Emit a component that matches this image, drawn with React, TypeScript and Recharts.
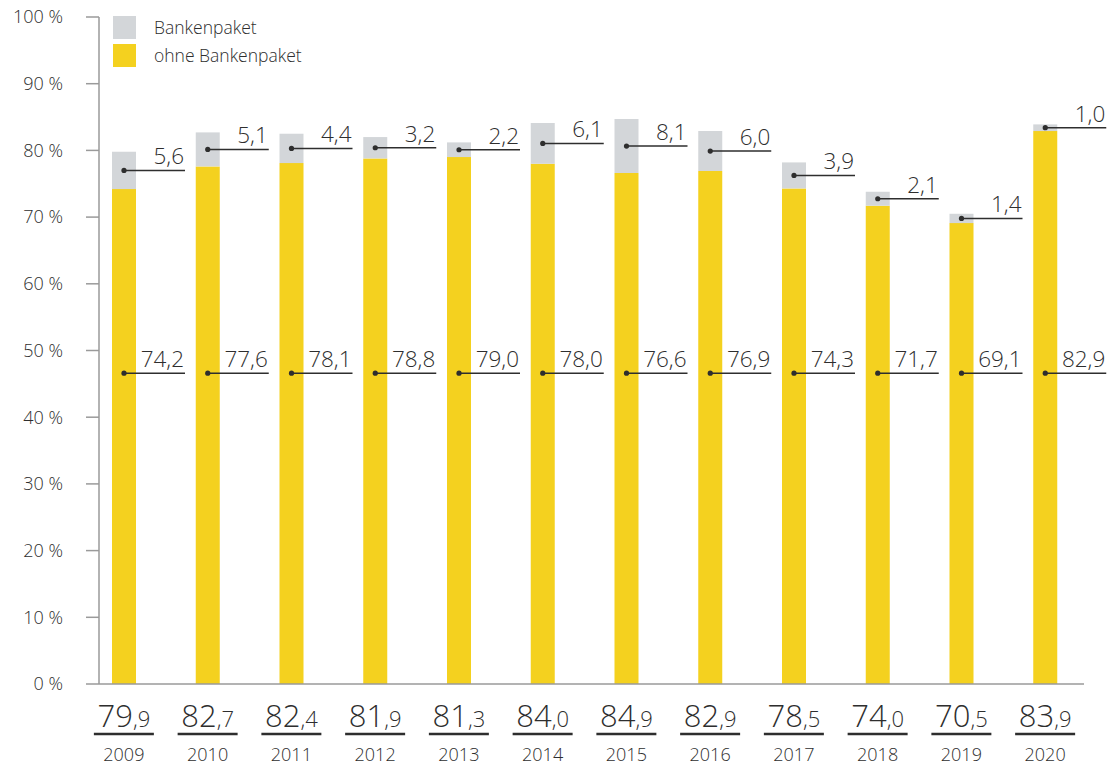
import React from "react";
import { BarChart, Bar, XAxis, YAxis, LabelList } from "recharts";

const years = ["2009", "2010", "2011", "2012", "2013", "2014", "2015", "2016", "2017", "2018", "2019", "2020"];
const ohneBankenpaket = [74.2, 77.6, 78.1, 78.8, 79.0, 78.0, 76.6, 76.9, 74.3, 71.7, 69.1, 82.9];
const bankenpaket = [5.6, 5.1, 4.4, 3.2, 2.2, 6.1, 8.1, 6.0, 3.9, 2.1, 1.4, 1.0];
const totals = [79.9, 82.7, 82.4, 81.9, 81.3, 84.0, 84.9, 82.9, 78.5, 74.0, 70.5, 83.9];
const yTicks = [0, 10, 20, 30, 40, 50, 60, 70, 80, 90, 100];
// level (in %) at which the "ohne Bankenpaket" values are annotated
const ohneLabelLevel = 46.6;

const YELLOW = "#f4d11f";
const GREY = "#d3d6d9";
const INK = "#2e2e2e";
const AXIS = "#9a9a9a";
const FONT = "'Open Sans', 'Noto Sans', sans-serif";

const data = years.map((y, i) => ({
  year: y,
  ohne: ohneBankenpaket[i],
  bank: bankenpaket[i],
}));

const fmt = (v: number) => v.toFixed(1).replace(".", ",");

function Callout({ cx, cy, text }: { cx: number; cy: number; text: string }) {
  const len = 61;
  return (
    <g>
      <line x1={cx} y1={cy} x2={cx + len} y2={cy} stroke={INK} strokeWidth={1.5} />
      <circle cx={cx} cy={cy} r={2.6} fill={INK} />
      <text x={cx + len - 1} y={cy - 6} textAnchor="end" fontSize={22.5} fontWeight={300}
        fill={INK} fontFamily={FONT}>{text}</text>
    </g>
  );
}

function OhneLabel(props: any) {
  const vb = props.viewBox ?? props;
  const { x, y, width, height } = vb;
  const i = props.index;
  const v = ohneBankenpaket[i];
  const bottom = y + height;
  const ly = bottom - (ohneLabelLevel * height) / v;
  return <Callout cx={x + width / 2} cy={ly} text={fmt(v)} />;
}

function BankLabel(props: any) {
  const vb = props.viewBox ?? props;
  const { x, y, width, height } = vb;
  const i = props.index;
  return <Callout cx={x + width / 2} cy={y + height / 2} text={fmt(bankenpaket[i])} />;
}

function YearTick(props: any) {
  const { x, y, payload } = props;
  const i = years.indexOf(String(payload.value));
  const [whole, dec] = fmt(totals[i]).split(",");
  return (
    <g fontFamily={FONT} fill={INK}>
      <text x={x} y={y + 43} textAnchor="middle" fontWeight={300} fill={INK}>
        <tspan fontSize={31}>{whole}</tspan>
        <tspan fontSize={22}>,{dec}</tspan>
      </text>
      <line x1={x - 30} y1={y + 50} x2={x + 30} y2={y + 50} stroke={INK} strokeWidth={2.5} />
      <text x={x} y={y + 77} textAnchor="middle" fontSize={18} fontWeight={300} fill={INK}>
        {payload.value}
      </text>
    </g>
  );
}

function LegendBox() {
  const items = [
    { name: "Bankenpaket", color: GREY },
    { name: "ohne Bankenpaket", color: YELLOW },
  ];
  return (
    <div style={{ position: "absolute", left: 113, top: 16, fontFamily: FONT, fontWeight: 300, color: INK, fontSize: 17.5 }}>
      {items.map((it) => (
        <div key={it.name} style={{ display: "flex", alignItems: "center", height: 23, marginBottom: 5 }}>
          <div style={{ width: 23, height: 23, background: it.color, marginRight: 18 }} />
          <span style={{ lineHeight: "23px" }}>{it.name}</span>
        </div>
      ))}
    </div>
  );
}

export default function App() {
  return (
    <div style={{ position: "absolute", left: 0, top: 0, width: 1113, height: 765, background: "#fff" }}>
      <BarChart width={1113} height={765} data={data}
        margin={{ top: 17, right: 29, bottom: 0, left: 0 }}>
        <XAxis dataKey="year" height={81} padding={{ left: -17, right: -3 }}
          axisLine={{ stroke: AXIS, strokeWidth: 1.5 }} tickLine={false} tickSize={0} tickMargin={0}
          tick={<YearTick />} interval={0} />
        <YAxis width={99} domain={[0, 100]} ticks={yTicks} tickFormatter={(v) => `${v} %`}
          axisLine={{ stroke: AXIS, strokeWidth: 1.5 }} tickLine={{ stroke: AXIS, strokeWidth: 1.5 }}
          tickSize={13} tickMargin={23}
          tick={{ fill: INK, fontSize: 18, fontFamily: FONT, fontWeight: 300 }} />
        <Bar dataKey="ohne" name="ohne Bankenpaket" stackId="a" fill={YELLOW} barSize={24}
          isAnimationActive={false}>
          <LabelList dataKey="ohne" content={<OhneLabel />} />
        </Bar>
        <Bar dataKey="bank" name="Bankenpaket" stackId="a" fill={GREY} barSize={24}
          isAnimationActive={false}>
          <LabelList dataKey="bank" content={<BankLabel />} />
        </Bar>
      </BarChart>
      <LegendBox />
    </div>
  );
}
